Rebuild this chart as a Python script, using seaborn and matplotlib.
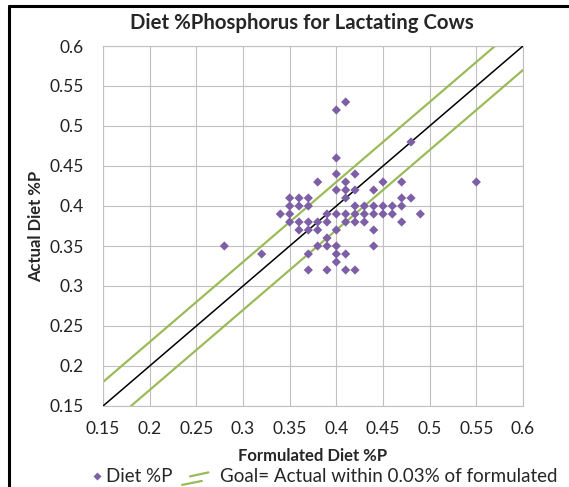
"""
Diet %Phosphorus for lactating cows: actual vs formulated,
with the 1:1 line and the +/- 0.03 goal band
"""

import matplotlib
matplotlib.use('Agg')
import matplotlib.pyplot as plt
from matplotlib.lines import Line2D
from matplotlib.legend_handler import HandlerBase
import pandas as pd
import seaborn as sns

# formulated vs actual %P
formulated = [0.28, 0.32, 0.34,
              0.35, 0.36, 0.37, 0.35, 0.36, 0.37, 0.35,
              0.35, 0.36, 0.37, 0.38, 0.39,
              0.36, 0.37, 0.38, 0.40, 0.44,
              0.39, 0.38, 0.39, 0.40, 0.44,
              0.37, 0.40, 0.41, 0.40,
              0.37, 0.39, 0.41, 0.42,
              0.38, 0.41, 0.45, 0.47, 0.40, 0.42,
              0.40, 0.41, 0.42, 0.44, 0.41, 0.47, 0.48,
              0.42, 0.43, 0.44, 0.45, 0.46, 0.47,
              0.39, 0.40, 0.41, 0.42, 0.43, 0.44, 0.45, 0.46, 0.49,
              0.41, 0.42, 0.43, 0.47,
              0.40, 0.40, 0.41, 0.48, 0.55]
actual = [0.35, 0.34, 0.39,
          0.41, 0.41, 0.41, 0.40, 0.40, 0.40, 0.39,
          0.38, 0.38, 0.38, 0.38, 0.38,
          0.37, 0.37, 0.37, 0.37, 0.37,
          0.36, 0.35, 0.35, 0.35, 0.35,
          0.34, 0.34, 0.34, 0.33,
          0.32, 0.32, 0.32, 0.32,
          0.43, 0.43, 0.43, 0.43, 0.44, 0.44,
          0.42, 0.42, 0.42, 0.42, 0.41, 0.41, 0.41,
          0.40, 0.40, 0.40, 0.40, 0.40, 0.40,
          0.39, 0.39, 0.39, 0.39, 0.39, 0.39, 0.39, 0.39, 0.39,
          0.38, 0.38, 0.38, 0.38,
          0.46, 0.52, 0.53, 0.48, 0.43]

# 1:1 line and goal band (+/- 0.03)
line_x = [0.15, 0.6]
line_y = [0.15, 0.6]
goal_hi = [0.18, 0.63]
goal_lo = [0.12, 0.57]

ticks = [0.15, 0.2, 0.25, 0.3, 0.35, 0.4, 0.45, 0.5, 0.55, 0.6]
tick_labels = ['0.15', '0.2', '0.25', '0.3', '0.35', '0.4', '0.45', '0.5', '0.55', '0.6']

purple = '#7D5FA6'
green = '#9BBB59'
grid_col = '#C0C0C0'

sns.set_style('white')
plt.rcParams['font.family'] = ['Lato', 'DejaVu Sans']

df = pd.DataFrame({'formulated': formulated, 'actual': actual})

fig = plt.figure(figsize=(5.69, 4.87), dpi=100)
ax = fig.add_axes([103 / 569, 81 / 487, 420 / 569, 360 / 487])

ax.plot(line_x, goal_hi, color=green, lw=1.6, zorder=2)
ax.plot(line_x, goal_lo, color=green, lw=1.6, zorder=2)
ax.plot(line_x, line_y, color='black', lw=1.1, zorder=3)
sns.scatterplot(data=df, x='formulated', y='actual', marker='D', s=22,
                color=purple, edgecolor='none', ax=ax, zorder=4, legend=False)

ax.set_xlim(0.15, 0.6)
ax.set_ylim(0.15, 0.6)
ax.set_xticks(ticks)
ax.set_xticklabels(tick_labels)
ax.set_yticks(ticks)
ax.set_yticklabels(tick_labels)
ax.tick_params(length=0, labelsize=12.5, colors='#222222')
ax.tick_params(axis='y', pad=14)
ax.tick_params(axis='x', pad=10.5)
ax.grid(True, color=grid_col, lw=0.8)
ax.set_axisbelow(True)
for sp in ax.spines.values():
    sp.set_color(grid_col)
    sp.set_linewidth(0.8)

ax.set_xlabel('Formulated Diet %P', fontsize=12, fontweight='bold', labelpad=8)
ax.set_ylabel('Actual Diet %P', fontsize=12, fontweight='bold', labelpad=4)
fig.text(0.531, 0.953, 'Diet %Phosphorus for Lactating Cows', ha='center',
         va='center', fontsize=14.7, fontweight='bold')


class Diamond(HandlerBase):
    def create_artists(self, legend, orig_handle, xdescent, ydescent,
                       width, height, fontsize, trans):
        m = Line2D([width + 2], [height / 2], marker='D', ls='', color=purple,
                   ms=4, mec='none', transform=trans)
        return [m]


class DoubleLine(HandlerBase):
    def create_artists(self, legend, orig_handle, xdescent, ydescent,
                       width, height, fontsize, trans):
        a = Line2D([0.3 * width, width], [0.45 * height, 0.75 * height],
                   color=green, lw=1.6, transform=trans)
        b = Line2D([0, 0.75 * width], [-0.2 * height, 0.1 * height],
                   color=green, lw=1.6, transform=trans)
        return [a, b]


h_pts = Line2D([], [], marker='D', ls='', color=purple)
h_goal = Line2D([], [], color=green)
fig.legend([h_pts, h_goal], ['Diet %P', 'Goal= Actual within 0.03% of formulated'],
           handler_map={h_pts: Diamond(), h_goal: DoubleLine()}, loc='center left',
           bbox_to_anchor=(68 / 569, 0.021), ncol=2, frameon=False, fontsize=13.5,
           handlelength=1.4, handletextpad=0.64, columnspacing=0.5,
           borderaxespad=0, borderpad=0)

# chart border (top and left edges visible in the crop)
fig.add_artist(Line2D([9 / 569, 1], [1 - 6 / 487, 1 - 6 / 487],
                      transform=fig.transFigure, color='black', lw=2.2))
fig.add_artist(Line2D([9 / 569, 9 / 569], [0, 1 - 6 / 487],
                      transform=fig.transFigure, color='black', lw=2.2))

fig.savefig('out.png', dpi=100)
